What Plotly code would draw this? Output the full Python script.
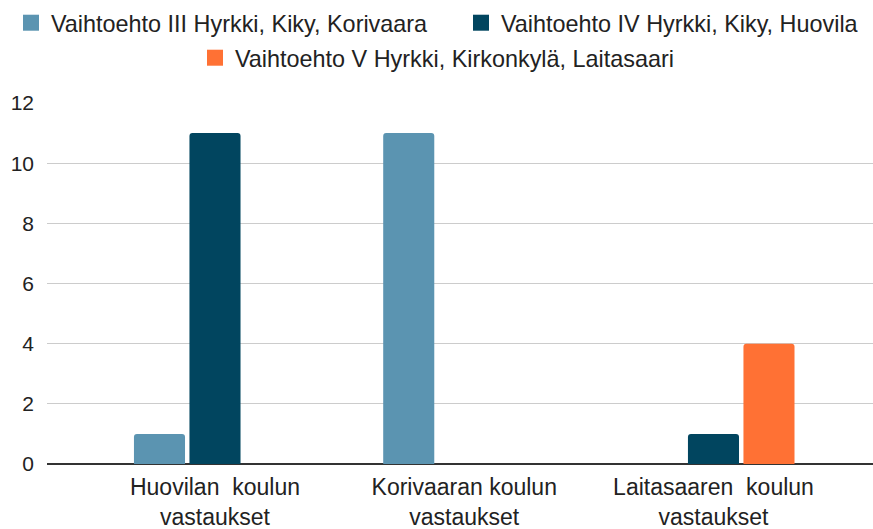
import plotly.graph_objects as go

categories = ["Huovilan  koulun<br>vastaukset", "Korivaaran koulun<br>vastaukset", "Laitasaaren  koulun<br>vastaukset"]
series_names = ["Vaihtoehto III Hyrkki, Kiky, Korivaara",
                "Vaihtoehto IV Hyrkki, Kiky, Huovila",
                "Vaihtoehto V Hyrkki, Kirkonkylä, Laitasaari"]
values_III = [1, 11, 0]
values_IV = [11, 0, 1]
values_V = [0, 0, 4]
colors = ["#5b94b1", "#01455f", "#ff7134"]
y_ticks = [0, 2, 4, 6, 8, 10, 12]

FONT = "Liberation Sans, Arial, sans-serif"
TXT = "#222222"
fig = go.Figure()
all_vals = [values_III, values_IV, values_V]
legends = ["legend", "legend2", "legend3"]
for name, vals, col in zip(series_names, all_vals, colors):
    fig.add_trace(go.Bar(x=list(range(len(categories))), y=vals, marker_color=col,
                         marker_line_width=0, showlegend=False, name=name))
for name, col, lg in zip(series_names, colors, legends):
    fig.add_trace(go.Scatter(x=[None], y=[None], mode="markers", name=name, legend=lg,
                             marker=dict(symbol="square", size=16, color=col)))

def leg(x, y):
    return dict(orientation="h", xref="container", yref="container", x=x, xanchor="left",
                y=y, yanchor="middle", font=dict(size=23.4, color=TXT), bgcolor="rgba(0,0,0,0)")

fig.update_layout(
    width=873, height=529,
    margin=dict(l=47, r=0, t=103, b=65),
    plot_bgcolor="white", paper_bgcolor="white",
    barmode="group", bargap=0.332, bargroupgap=0.08, barcornerradius=3,
    font=dict(family=FONT, size=22, color=TXT),
    legend=leg(11/873, 1 - 23/529),
    legend2=leg(461/873, 1 - 23/529),
    legend3=leg(195/873, 1 - 58/529),
    xaxis=dict(range=[-0.674, 2.64], tickvals=list(range(len(categories))), ticktext=categories,
               showgrid=False, zeroline=False, showline=False, ticks="", ticklabelstandoff=7,
               automargin=False, tickfont=dict(size=23, color=TXT)),
    yaxis=dict(range=[0, 12], tickvals=y_ticks, showgrid=True, gridcolor="#cccccc", gridwidth=1,
               zeroline=True, zerolinecolor="#333333", zerolinewidth=2, showline=False,
               automargin=False, ticks="", ticklabelstandoff=12, tickfont=dict(size=21, color=TXT)),
)
fig.write_html("out.html", post_script="document.body.style.margin='0';",
               config={"displayModeBar": False})
